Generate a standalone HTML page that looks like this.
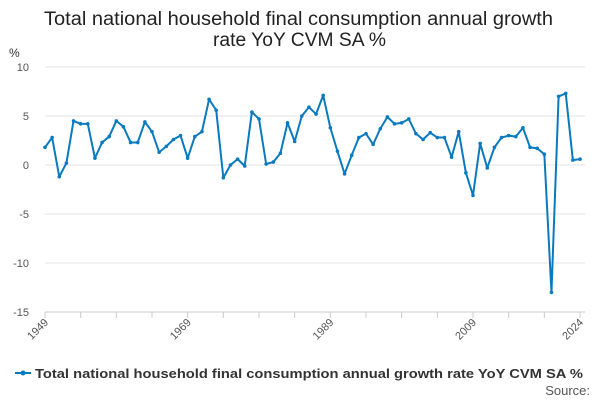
<!DOCTYPE html>
<html><head><meta charset="utf-8"><style>
body{margin:0;background:#fff;font-family:"Liberation Sans",sans-serif}
svg{display:block}
</style></head><body>
<svg width="600" height="400" id="c">
<text x="44" y="25" textLength="509" lengthAdjust="spacingAndGlyphs" font-size="19" fill="#222">Total national household final consumption annual growth</text>
<text x="213" y="46" textLength="173" lengthAdjust="spacingAndGlyphs" font-size="19" fill="#222">rate YoY CVM SA %</text>
<text x="9" y="57" font-size="12" fill="#333">%</text>
<g id="grid"></g><g id="xt"></g><g id="series"></g>
<g>
<line x1="15" y1="373" x2="31" y2="373" stroke="#0a7abf" stroke-width="2"/><circle cx="23" cy="373" r="2.5" fill="#0a7abf"/>
<text x="35" y="378" textLength="548" lengthAdjust="spacingAndGlyphs" font-size="13" font-weight="bold" fill="#333">Total national household final consumption annual growth rate YoY CVM SA %</text></g>
<text x="590" y="395" text-anchor="end" font-size="13" fill="#555">Source:</text>
</svg>
<script>
const years=[];for(let y=1949;y<=2024;y++)years.push(y);
const values=[1.8,2.8,-1.2,0.2,4.5,4.2,4.2,0.7,2.3,2.9,4.5,3.9,2.3,2.3,4.4,3.4,1.3,1.9,2.6,3.0,0.7,2.9,3.4,6.7,5.6,-1.3,0.0,0.6,-0.1,5.4,4.7,0.1,0.3,1.2,4.3,2.4,5.0,5.9,5.2,7.1,3.8,1.4,-0.9,1.0,2.8,3.2,2.1,3.7,4.9,4.2,4.3,4.7,3.2,2.6,3.3,2.8,2.8,0.8,3.4,-0.8,-3.1,2.2,-0.3,1.8,2.8,3.0,2.9,3.8,1.8,1.7,1.1,-13.0,7.0,7.3,0.5,0.6];
const yTicks=[10,5,0,-5,-10,-15];
const xLabels=[1949,1969,1989,2009,2024];
const NS="http://www.w3.org/2000/svg";
const X=y=>45+(y-1949)*(535/75), Y=v=>165-v*9.8;
function mk(t,a,p){const e=document.createElementNS(NS,t);for(const k in a)e.setAttribute(k,a[k]);p.appendChild(e);return e;}
const g=document.getElementById('grid');
yTicks.forEach(v=>{const l=mk('line',{x1:45,x2:585,y1:Y(v),y2:Y(v),stroke:v===-15?'#ccc':'#e3e3e3'},g);


const t=mk('text',{x:29,y:Y(v)+4,'text-anchor':'end','font-size':11,fill:'#555'},g);t.textContent=v;

});
const xt=document.getElementById('xt');
for(let y=1949;y<=2024;y+=5){const l=mk('line',{x1:X(y),x2:X(y),y1:312,y2:318,stroke:'#ccc'},xt);

}
xLabels.forEach(y=>{const t=mk('text',{x:X(y)+4,y:323,'text-anchor':'end','font-size':11,fill:'#555',transform:`rotate(-45 ${X(y)+4} 323)`},xt);t.textContent=y;

});
const s=document.getElementById('series');
const p=mk('polyline',{points:years.map((y,i)=>X(y)+','+Y(values[i])).join(' '),fill:'none',stroke:'#0a7abf','stroke-width':2,'stroke-linejoin':'round'},s);


years.forEach((y,i)=>{const c=mk('circle',{cx:X(y),cy:Y(values[i]),r:1.8,fill:'#0a7abf'},s);

});
</script>
</body></html>
